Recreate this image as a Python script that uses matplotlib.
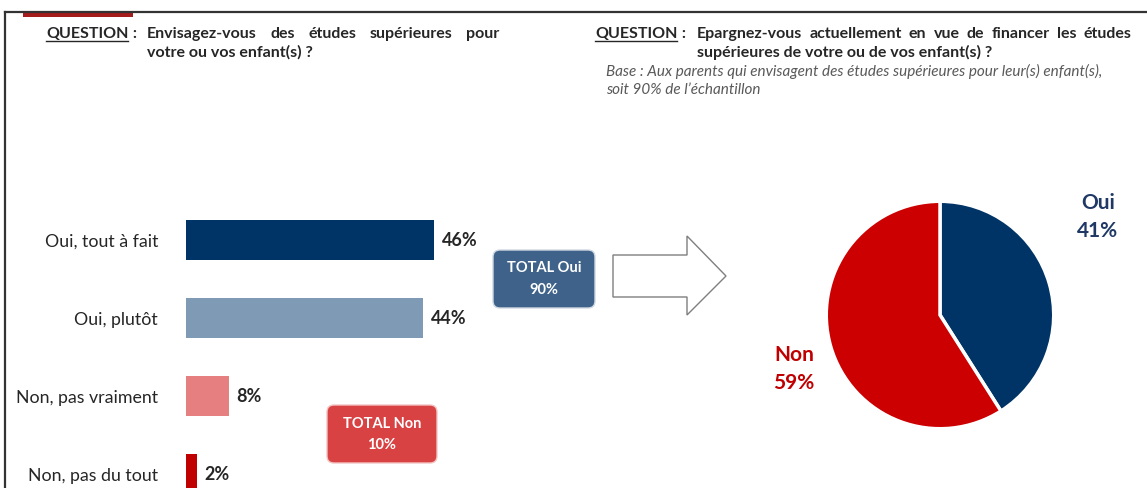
import matplotlib
matplotlib.use("Agg")
import matplotlib.pyplot as plt
from matplotlib.patches import FancyBboxPatch, Polygon, Rectangle

# data
categories = ["Oui, tout à fait", "Oui, plutôt", "Non, pas vraiment", "Non, pas du tout"]
values = [46, 44, 8, 2]
bar_colors = ["#003366", "#7F9AB5", "#E57F80", "#C00000"]
pie_labels = ["Oui", "Non"]
pie_values = [41, 59]
pie_colors = ["#003366", "#CC0000"]
total_oui = 90
total_non = 10

W, H = 1147, 488
plt.rcParams['font.family'] = ['Lato', 'DejaVu Sans']
fig = plt.figure(figsize=(W / 100, H / 100), dpi=100)

# background axes in pixel coordinates
bg = fig.add_axes([0, 0, 1, 1])
bg.set_xlim(0, W)
bg.set_ylim(H, 0)
bg.axis('off')
renderer = fig.canvas.get_renderer()

# frame
bg.plot([5, W], [12, 12], color="#333333", lw=1.6)
bg.plot([5, 5], [12, H], color="#333333", lw=1.6)
bg.add_patch(Rectangle((23, 12), 110, 5, color="#A51C1C", lw=0))

txt_color = "#262626"
hsize = 11.5


def width_of(t):
    return t.get_window_extent(renderer).width


def justified(words, x0, x1, y, **kw):
    items = [bg.text(x0, y, w, va='baseline', ha='left', **kw) for w in words]
    widths = [width_of(t) for t in items]
    gap = (x1 - x0 - sum(widths)) / (len(words) - 1)
    x = x0
    for t, w in zip(items, widths):
        t.set_x(x)
        x += w + gap


def question(x, y):
    t = bg.text(x, y, "QUESTION", fontsize=hsize, fontweight='bold', color=txt_color, va='baseline')
    w = width_of(t)
    bg.plot([x, x + w], [y + 3, y + 3], color=txt_color, lw=1)
    bg.text(x + w + 1, y, " :", fontsize=hsize, fontweight='bold', color=txt_color, va='baseline')


# left question
question(46, 38)
justified("Envisagez-vous des études supérieures pour".split(), 147, 499, 38,
          fontsize=hsize, fontweight='bold', color=txt_color)
bg.text(147, 57, "votre ou vos enfant(s) ?", fontsize=hsize, fontweight='bold', color=txt_color, va='baseline')

# right question
question(595, 38)
justified("Epargnez-vous actuellement en vue de financer les études".split(), 697, 1131, 38,
          fontsize=hsize, fontweight='bold', color=txt_color)
bg.text(697, 57, "supérieures de votre ou de vos enfant(s) ?", fontsize=hsize, fontweight='bold',
        color=txt_color, va='baseline')
bg.text(606, 76, "Base : Aux parents qui envisagent des études supérieures pour leur(s) enfant(s),",
        fontsize=11, style='italic', color="#595959", va='baseline')
bg.text(606, 94, "soit 90% de l\u2019échantillon", fontsize=11, style='italic', color="#595959", va='baseline')

# bar chart
px_per_pct = 5.39
ax_w = 60 * px_per_pct
ax = fig.add_axes([186 / W, 0, ax_w / W, (H - 201) / H])
ax.patch.set_visible(False)
ax.set_xlim(0, 60)
ax.set_ylim((H - 240) / 78, -0.5)
ypos = list(range(len(categories)))
ax.barh(ypos, values, height=40 / 78, color=bar_colors)
ax.set_yticks(ypos)
ax.set_yticklabels(categories, fontsize=12.8, color=txt_color)
ax.tick_params(axis='y', length=0, pad=20)
ax.set_xticks([])
for s in ax.spines.values():
    s.set_visible(False)
for y, v in zip(ypos, values):
    ax.text(v + 1.4, y, f"{v}%", va='center', ha='left', fontsize=13, fontweight='bold', color=txt_color)

# total boxes
bsize = 10.5
bg.add_patch(FancyBboxPatch((497, 254), 94, 50, boxstyle="round,pad=4,rounding_size=7",
                            fc="#3E6289", ec="#D0D8E2", lw=1, zorder=3))
bg.text(544, 268, "TOTAL Oui", ha='center', va='center', fontsize=bsize, fontweight='bold', color='white', zorder=4)
bg.text(544, 290, f"{total_oui}%", ha='center', va='center', fontsize=bsize, fontweight='bold', color='white', zorder=4)
bg.add_patch(FancyBboxPatch((331, 409), 102, 50, boxstyle="round,pad=4,rounding_size=7",
                            fc="#D94242", ec="#F2C4C4", lw=1, zorder=3))
bg.text(382, 424, "TOTAL Non", ha='center', va='center', fontsize=bsize, fontweight='bold', color='white', zorder=4)
bg.text(382, 445, f"{total_non}%", ha='center', va='center', fontsize=bsize, fontweight='bold', color='white', zorder=4)

# arrow
bg.add_patch(Polygon([(613, 255), (687, 255), (687, 236), (726, 276), (687, 315), (687, 297), (613, 297)],
                     closed=True, fc='white', ec="#7F7F7F", lw=1))

# pie
r = 116
cx, cy = 940, 315
pax = fig.add_axes([(cx - r) / W, (H - cy - r) / H, 2 * r / W, 2 * r / H])
pax.patch.set_visible(False)
pax.pie(pie_values, colors=pie_colors, startangle=90, counterclock=False,
        wedgeprops=dict(edgecolor='white', linewidth=2.5), radius=1)
pax.set_xlim(-1.02, 1.02)
pax.set_ylim(-1.02, 1.02)
pax.set_aspect('auto')
pax.axis('off')

psize = 15
bg.text(1098, 203, pie_labels[0], ha='center', va='center', fontsize=psize, fontweight='bold', color="#1F3864")
bg.text(1098, 231, f"{pie_values[0]}%", ha='center', va='center', fontsize=psize, fontweight='bold', color="#1F3864")
bg.text(794, 355, pie_labels[1], ha='center', va='center', fontsize=psize, fontweight='bold', color="#C00000")
bg.text(794, 383, f"{pie_values[1]}%", ha='center', va='center', fontsize=psize, fontweight='bold', color="#C00000")

fig.savefig("out.png", dpi=100)
